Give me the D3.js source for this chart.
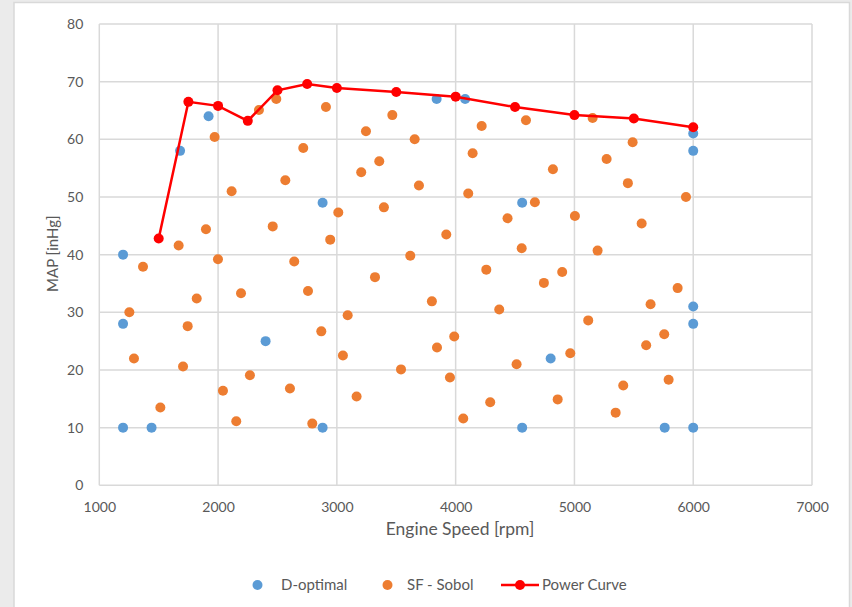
<!DOCTYPE html>
<html><head><meta charset="utf-8">
<script src="https://cdn.jsdelivr.net/npm/d3@7"></script>
<style>
html,body{margin:0;padding:0;background:#ebebeb;}
svg{display:block;}
text{font-family:Lato,"Open Sans",sans-serif;fill:#595959;}
</style></head>
<body>
<svg id="chart" width="852" height="607"></svg>
<script>
const xTicks = [1000,2000,3000,4000,5000,6000,7000];
const yTicks = [0,10,20,30,40,50,60,70,80];

const dOptX = [1200,1200,1200,1440,1680,1920,2400,2880,2880,3840,4080,4560,4560,4800,5760,6000,6000,6000,6000,6000];
const dOptY = [40,28,10,10,58,64,25,49,10,67,67,49,10,22,10,61,58,31,28,10];

const sobolX = [2344,2490,2908,1971,2717,3245,3467,3655,3357,3205,2566,2114,3691,3012,3396,1898,2460,2944,1668,3618,
  1999,2641,1368,3321,2757,2193,1820,3800,1253,3091,1744,2869,1292,3051,1705,3540,2268,2605,2041,3166,1514,2153,2793,
  4219,4592,5153,5490,4143,5271,4819,5450,4106,5939,4667,4437,5004,5566,3921,4556,5195,
  4258,4743,4897,5869,5641,4367,5116,5756,5604,3988,3843,4965,4513,3952,5793,5411,4291,4859,5347,4064];
const sobolY = [65.1,67.0,65.6,60.4,58.5,61.4,64.2,60.0,56.2,54.3,52.9,51.0,52.0,47.3,48.2,44.4,44.9,42.6,41.6,39.8,
  39.2,38.8,37.9,36.1,33.7,33.3,32.4,31.9,30.0,29.5,27.6,26.7,22.0,22.5,20.6,20.1,19.1,16.8,16.4,15.4,13.5,11.1,10.7,
  62.3,63.3,63.7,59.5,57.6,56.6,54.8,52.4,50.6,50.0,49.1,46.3,46.7,45.4,43.5,41.1,40.7,
  37.4,35.1,37.0,34.2,31.4,30.5,28.6,26.2,24.3,25.8,23.9,22.9,21.0,18.7,18.3,17.3,14.4,14.9,12.6,11.6];

const powerX = [1500,1750,2000,2250,2500,2750,3000,3500,4000,4500,5000,5500,6000];
const powerY = [42.8,66.5,65.8,63.2,68.5,69.6,68.9,68.2,67.4,65.6,64.2,63.6,62.1];

const seriesNames = ["D-optimal","SF - Sobol","Power Curve"];
const colors = {blue:"#5B9BD5", orange:"#ED7D31", red:"#FF0000", grid:"#d9d9d9"};

const svg = d3.select("#chart");
// chart area
svg.append("rect").attr("x",14).attr("y",2.5).attr("width",835.5).attr("height",620)
  .attr("fill","#fff").attr("stroke","#d9d9d9").attr("stroke-width",1.5);

const x = d3.scaleLinear().domain([1000,7000]).range([99.3,812]);
const y = d3.scaleLinear().domain([0,80]).range([485.3,24]);

const g = svg.append("g");
// grid
g.selectAll(".vg").data(xTicks).join("line")
  .attr("x1",d=>x(d)).attr("x2",d=>x(d)).attr("y1",y(0)).attr("y2",y(80))
  .attr("stroke",colors.grid).attr("stroke-width",1.5);
g.selectAll(".hg").data(yTicks).join("line")
  .attr("x1",x(1000)).attr("x2",x(7000)).attr("y1",d=>y(d)).attr("y2",d=>y(d))
  .attr("stroke",colors.grid).attr("stroke-width",1.5);

// axes labels via d3 axes
const xAxis = svg.append("g").attr("transform",`translate(0,${y(0)})`)
  .call(d3.axisBottom(x).tickValues(xTicks).tickSize(0).tickPadding(17).tickFormat(d3.format("d")));
xAxis.select(".domain").remove();
xAxis.selectAll("text").style("font-size","14px").style("fill","#595959").style("font-family","Lato");

const yAxis = svg.append("g").attr("transform",`translate(${x(1000)},0)`)
  .call(d3.axisLeft(y).tickValues(yTicks).tickSize(0).tickPadding(16).tickFormat(d3.format("d")));
yAxis.select(".domain").remove();
yAxis.selectAll("text").style("font-size","14px").style("fill","#595959").style("font-family","Lato");

svg.append("text").attr("x",460).attr("y",535).attr("text-anchor","middle")
  .style("font-size","17.5px").text("Engine Speed [rpm]");
svg.append("text").attr("transform",`translate(57.5,${y(40)-1}) rotate(-90)`).attr("text-anchor","middle")
  .style("font-size","15px").text("MAP [inHg]");

// scatter
const dOpt = dOptX.map((v,i)=>({x:v,y:dOptY[i]}));
const sobol = sobolX.map((v,i)=>({x:v,y:sobolY[i]}));
const power = powerX.map((v,i)=>({x:v,y:powerY[i]}));

g.selectAll(".d").data(dOpt).join("circle")
  .attr("cx",d=>x(d.x)).attr("cy",d=>y(d.y)).attr("r",5).attr("fill",colors.blue);
g.selectAll(".s").data(sobol).join("circle")
  .attr("cx",d=>x(d.x)).attr("cy",d=>y(d.y)).attr("r",5).attr("fill",colors.orange);

g.append("path").datum(power)
  .attr("d",d3.line().x(d=>x(d.x)).y(d=>y(d.y)))
  .attr("fill","none").attr("stroke",colors.red).attr("stroke-width",2.5);
g.selectAll(".p").data(power).join("circle")
  .attr("cx",d=>x(d.x)).attr("cy",d=>y(d.y)).attr("r",5).attr("fill",colors.red);

// legend
const ly = 585;
const leg = svg.append("g");
leg.append("circle").attr("cx",257.5).attr("cy",ly).attr("r",5).attr("fill",colors.blue);
leg.append("text").attr("x",281).attr("y",ly+5).style("font-size","15px").text(seriesNames[0]);
leg.append("circle").attr("cx",387.5).attr("cy",ly).attr("r",5).attr("fill",colors.orange);
leg.append("text").attr("x",407).attr("y",ly+5).style("font-size","15px").text(seriesNames[1]);
leg.append("line").attr("x1",501).attr("x2",539).attr("y1",ly).attr("y2",ly).attr("stroke",colors.red).attr("stroke-width",2.5);
leg.append("circle").attr("cx",520).attr("cy",ly).attr("r",5).attr("fill",colors.red);
leg.append("text").attr("x",542).attr("y",ly+5).style("font-size","15px").text(seriesNames[2]);
</script>
</body></html>
